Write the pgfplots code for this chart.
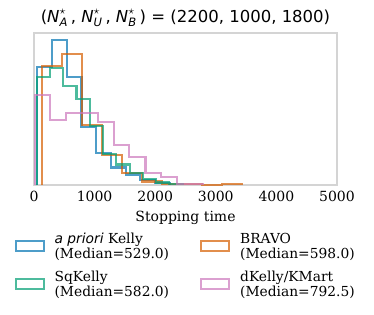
\documentclass[border=0pt]{standalone}
\usepackage{fontspec}
\usepackage{amsmath}
\usepackage{pgfplots}
\pgfplotsset{compat=1.18}
\setmainfont{DejaVu Serif}
\newfontfamily\dvsans{DejaVu Sans}
\definecolor{cbblue}{HTML}{0173B2}
\definecolor{cborange}{HTML}{D55E00}
\definecolor{cbgreen}{HTML}{029E73}
\definecolor{cbpink}{HTML}{CC78BC}
\begin{document}
\begin{tikzpicture}
\useasboundingbox (-34pt,-129pt) rectangle (340pt,185pt);
\begin{axis}[
  at={(0,0)}, anchor=south west,
  scale only axis, width=303pt, height=152pt,
  xmin=0, xmax=5000, ymin=0, ymax=152,
  xtick={0,1000,2000,3000,4000,5000},
  ytick=\empty,
  major tick length=0pt,
  axis line style={draw=black!17, line width=1.4pt},
  /pgf/number format/assume math mode=true,
  /pgf/number format/1000 sep={},
  xticklabel style={font=\fontsize{14}{14}\selectfont, yshift=-3pt},
  xlabel={Stopping time},
  xlabel style={font=\fontsize{14}{15}\selectfont, yshift=-2pt},
  title={\dvsans ($\text{\itshape N}^{\star}_{\text{\itshape A}}\,$, $\text{\itshape N}^{\star}_{\text{\itshape U}}\,$, $\text{\itshape N}^{\star}_{\text{\itshape B}}\,$) = (2200, 1000, 1800)},
  title style={font=\fontsize{16.5}{18}\selectfont, yshift=-3pt},
  legend style={draw=none, fill=none, at={(-0.065,-0.30)}, anchor=north west,
    inner sep=0pt,
    font=\fontsize{13.8}{15}\selectfont, cells={align=left},
    row sep=7pt,
    /tikz/every odd column/.append style={column sep=8pt},
    /tikz/every even column/.append style={column sep=29pt}},
  legend columns=2,
  legend cell align=left,
  legend image code/.code={\draw[#1, fill=none] (0pt,-5pt) rectangle (28pt,5pt);},
  every axis plot/.append style={line width=2.1pt, opacity=0.7, sharp plot},
]
\addplot[cbblue] coordinates {(55,0)(55,118)(298,118)(298,145)(541,145)(541,108)(784,108)(784,58)(1027,58)(1027,32)(1270,32)(1270,17.5)(1513,17.5)(1513,10.5)(1756,10.5)(1756,5)(1999,5)(1999,1.6)(2242,1.6)(2242,0)};
\addlegendentry{{\dvsans\itshape a priori} Kelly\\(Median=529.0)}
\addplot[cborange] coordinates {(132,0)(132,119.3)(462,119.3)(462,131)(792,131)(792,60)(1122,60)(1122,30)(1452,30)(1452,12)(1782,12)(1782,3.5)(2112,3.5)(2112,1.2)(2442,1.2)(2442,1)(2772,1)(2772,0)(3102,0)(3102,0.8)(3432,0.8)(3432,0)};
\addlegendentry{BRAVO\\(Median=598.0)}
\addplot[cbgreen] coordinates {(44,0)(44,108.3)(263,108.3)(263,116.7)(482,116.7)(482,99)(701,99)(701,86)(920,86)(920,59.3)(1139,59.3)(1139,30.7)(1358,30.7)(1358,20.5)(1577,20.5)(1577,12)(1796,12)(1796,6)(2015,6)(2015,2.5)(2234,2.5)(2234,0.8)(2453,0.8)(2453,0)};
\addlegendentry{SqKelly\\(Median=582.0)}
\addplot[cbpink] coordinates {(16,0)(16,90)(265,90)(265,65)(521,65)(521,72.3)(790,72.3)(1058,72.3)(1058,63.3)(1321,63.3)(1321,40)(1572,40)(1572,28.3)(1840,28.3)(1840,12.3)(2100,12.3)(2100,8.3)(2357,8.3)(2357,1)(2570,1)(2570,0.7)(2780,0.7)(2780,0)};
\addlegendentry{dKelly/KMart\\(Median=792.5)}
\end{axis}
\end{tikzpicture}
\end{document}
